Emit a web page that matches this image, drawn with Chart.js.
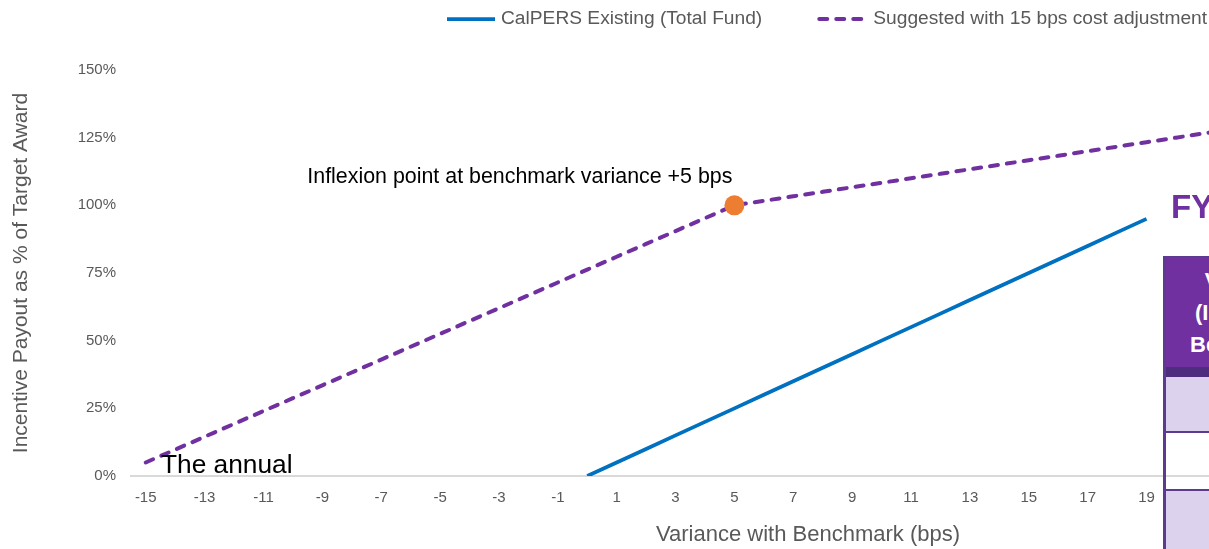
<!DOCTYPE html>
<html>
<head>
<meta charset="utf-8">
<script src="https://cdn.jsdelivr.net/npm/chart.js@4.4.1/dist/chart.umd.min.js"></script>
<style>
  html, body { margin: 0; padding: 0; background: #fff; }
  #stage { position: relative; width: 1209px; height: 549px; overflow: hidden;
           font-family: "Liberation Sans", Arial, sans-serif; }
  #chart { position: absolute; left: 0; top: 0; }
  .note { position: absolute; left: 161px; top: 451px; font-size: 26.3px; line-height: 1;
          color: #000; white-space: nowrap; }
  .fy { position: absolute; left: 1171px; top: 190px; font-size: 33px; line-height: 1;
        font-weight: bold; color: #7030A0; white-space: nowrap; }
  .tbl { position: absolute; left: 1163px; top: 256px; width: 168px;
         border-left: 3px solid #5B3A8F; border-top: 1px solid #5B3A8F; }
  .th { height: 110px; box-sizing: border-box; padding-top: 8px; background: #7030A0; color: #fff;
        font-weight: bold; font-size: 22px; line-height: 32px; text-align: center; white-space: nowrap; }
  .sep { height: 10px; background: #4E2C7E; }
  .row { height: 54px; border-bottom: 2px solid #5B3A8F; }
  .row.tall { height: 56px; }
  .row.last { height: 70px; }
  .shade { background: #DCD2EE; }
</style>
</head>
<body>
<div id="stage">
  <canvas id="chart" width="1495" height="549"></canvas>
  <div class="note">The annual</div>
  <div class="fy">FY</div>
  <div class="tbl">
    <div class="th">Variance<br>(In bps) vs<br>Benchmark</div>
    <div class="sep"></div>
    <div class="row shade"></div>
    <div class="row tall"></div>
    <div class="row shade last"></div>
  </div>
</div>
<script>
// Variance with benchmark, in basis points (category axis)
const varianceBps = ['-15','-14','-13','-12','-11','-10','-9','-8','-7','-6','-5','-4','-3','-2','-1',
  '0','1','2','3','4','5','6','7','8','9','10','11','12','13','14','15','16','17','18','19',
  '20','21','22','23','24','25','26','27','28','29','30'];

// Payout as % of target award — existing total fund plan
const calpersExisting = [null,null,null,null,null,null,null,null,null,null,null,null,null,null,null,
  0,5,10,15,20,25,30,35,40,45,50,55,60,65,70,75,80,85,90,95,
  null,null,null,null,null,null,null,null,null,null,null];

// Payout as % of target award — suggested curve with 15 bps cost adjustment
const suggestedAdjusted = [5,9.75,14.5,19.25,24,28.75,33.5,38.25,43,47.75,52.5,57.25,62,66.75,71.5,
  76.25,81,85.75,90.5,95.25,100,101.67,103.33,105,106.67,108.33,110,111.67,113.33,115,
  116.67,118.33,120,121.67,123.33,125,126.67,128.33,
  null,null,null,null,null,null,null,null];

// Inflexion point of the suggested curve
const inflexionVariance = '5';
const inflexionPayout = 100;
const inflexionLabel = 'Inflexion point at benchmark variance +5 bps';

// Y axis ticks (percent of target award)
const payoutTicks = [0, 25, 50, 75, 100, 125, 150];

const FONT = '"Liberation Sans", Arial, sans-serif';
const GREY = '#595959';
Chart.defaults.font.family = FONT;

// Line-sample legend drawn at a fixed spot above the plot
const lineLegend = {
  id: 'lineLegend',
  afterDraw(chart, args, opts) {
    const ctx = chart.ctx;
    ctx.save();
    ctx.font = opts.font;
    ctx.textBaseline = 'middle';
    ctx.textAlign = 'left';
    let x = opts.x;
    chart.data.datasets.forEach(ds => {
      if (ds.inLegend === false) return;
      ctx.strokeStyle = ds.borderColor;
      ctx.lineWidth = ds.borderWidth;
      ctx.lineCap = ds.borderCapStyle || 'butt';
      ctx.setLineDash(ds.borderDash || []);
      ctx.beginPath();
      ctx.moveTo(x, opts.y);
      ctx.lineTo(x + opts.sampleWidth, opts.y);
      ctx.stroke();
      ctx.setLineDash([]);
      const tx = x + opts.sampleWidth + opts.textGap;
      ctx.fillStyle = opts.color;
      ctx.fillText(ds.label, tx, opts.y);
      x = tx + ctx.measureText(ds.label).width + opts.itemGap;
    });
    ctx.restore();
  }
};

// Caption placed above-left of the inflexion marker
const inflexionCaption = {
  id: 'inflexionCaption',
  afterDatasetsDraw(chart, args, opts) {
    const idx = chart.data.datasets.findIndex(d => d.id === 'inflexion');
    const pt = chart.getDatasetMeta(idx).data[0];
    if (!pt) return;
    const ctx = chart.ctx;
    ctx.save();
    ctx.font = opts.font;
    ctx.fillStyle = '#000';
    ctx.textAlign = 'right';
    ctx.textBaseline = 'middle';
    ctx.fillText(opts.text, pt.x + opts.dx, pt.y + opts.dy);
    ctx.restore();
  }
};

new Chart(document.getElementById('chart'), {
  type: 'line',
  data: {
    labels: varianceBps,
    datasets: [
      {
        id: 'inflexion',
        inLegend: false,
        label: inflexionLabel,
        data: [{ x: inflexionVariance, y: inflexionPayout }],
        showLine: false,
        pointRadius: 10,
        pointBackgroundColor: '#ED7D31',
        pointBorderWidth: 0,
        order: -1
      },
      {
        label: 'CalPERS Existing (Total Fund)',
        data: calpersExisting,
        borderColor: '#0070C0',
        borderWidth: 3.75,
        borderCapStyle: 'butt',
        pointRadius: 0,
        tension: 0,
        fill: false
      },
      {
        label: 'Suggested with 15 bps cost adjustment',
        data: suggestedAdjusted,
        borderColor: '#7030A0',
        borderWidth: 4,
        borderDash: [8, 9],
        borderCapStyle: 'round',
        pointRadius: 0,
        tension: 0,
        fill: false
      }
    ]
  },
  options: {
    responsive: false,
    animation: false,
    devicePixelRatio: 1,
    layout: { padding: { top: 70, left: 0, right: 0, bottom: 0 } },
    plugins: {
      legend: { display: false },
      tooltip: { enabled: false },
      lineLegend: { x: 447, y: 19, sampleWidth: 48, textGap: 6, itemGap: 57,
                    font: '19.2px ' + FONT, color: GREY },
      inflexionCaption: { text: inflexionLabel, font: '21.4px ' + FONT, dx: -2, dy: -28 }
    },
    scales: {
      x: {
        type: 'category',
        offset: true,
        grid: { display: false, drawTicks: false },
        border: { display: true, color: '#D9D9D9', width: 2 },
        ticks: {
          autoSkip: false, maxRotation: 0, padding: 13,
          color: GREY, font: { size: 15 },
          callback(value) {
            const lab = this.getLabelForValue(value);
            return Number(lab) % 2 !== 0 ? lab : '';
          }
        },
        title: { display: true, text: 'Variance with Benchmark (bps)', color: GREY,
                 font: { size: 22 }, padding: { top: 0, bottom: 1 } },
        afterFit(s) { s.height = 73; }
      },
      y: {
        min: 0, max: 150,
        grid: { display: false, drawTicks: false },
        border: { display: false },
        afterBuildTicks(s) { s.ticks = payoutTicks.map(v => ({ value: v })); },
        ticks: { padding: 15, color: GREY, font: { size: 15 }, callback: v => v + '%' },
        title: { display: true, text: 'Incentive Payout as % of Target Award', color: GREY,
                 font: { size: 21 }, padding: { top: 9, bottom: 0 } },
        afterFit(s) { s.width = 131; }
      }
    }
  },
  plugins: [lineLegend, inflexionCaption]
});
</script>
</body>
</html>
